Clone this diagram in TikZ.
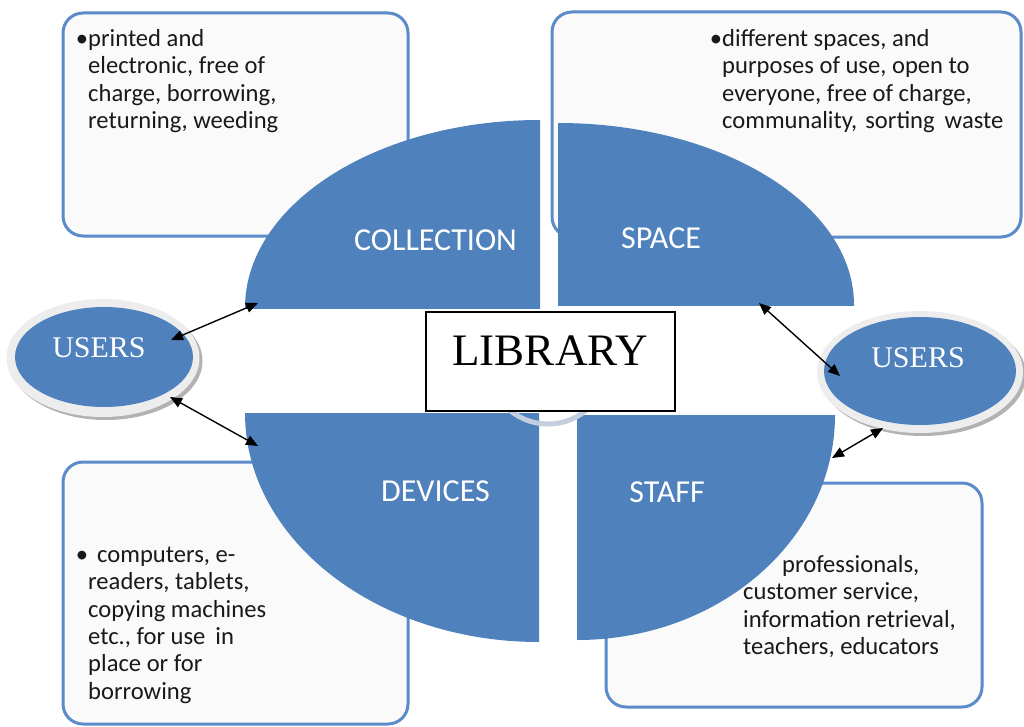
\documentclass[tikz,border=0pt]{standalone}
\usepackage{fontspec}
\setmainfont{Liberation Serif}
\newfontfamily\calfont{Carlito}
\usetikzlibrary{shapes.geometric,arrows.meta}
\definecolor{pieblue}{HTML}{4F81BD}
\definecolor{boxline}{HTML}{5B8BC9}
\definecolor{boxfill}{HTML}{FAFAFA}
\definecolor{ringgrey}{HTML}{EDEDED}
\definecolor{ringblue}{HTML}{C3CEDF}
\begin{document}
\begin{tikzpicture}[x=1pt,y=-1pt,
  infobox/.style={draw=boxline, line width=3pt, fill=boxfill, rounded corners=20pt},
  bodytext/.style={font=\fontsize{24.6}{27.3}\selectfont\calfont, align=left, anchor=north west, inner sep=0pt, text=black!90},
  pielabel/.style={font=\fontsize{32}{32}\selectfont\calfont, text=white, anchor=base, inner sep=0pt},
  userstext/.style={font=\fontsize{30}{30}\selectfont, text=white, anchor=base, inner sep=0pt},
  dbl/.style={{Triangle[length=12pt,width=10pt]}-{Triangle[length=12pt,width=10pt]}, line width=1.4pt, black, shorten <=0pt, shorten >=0pt},
  usersblue/.style={ellipse, fill=pieblue, inner sep=0pt},
  usersring/.style={ellipse, fill=ringgrey, inner sep=0pt},
  usersshadow/.style={ellipse, fill=gray!60, inner sep=0pt}]
\useasboundingbox (0,0) rectangle (1024,727);
\fill[white] (0,0) rectangle (1024,727);

% info boxes
\draw[infobox] (63,13) rectangle (408,236);
\draw[infobox] (552,12) rectangle (1021,237);
\draw[infobox] (63,462) rectangle (408,724);
\draw[infobox] (606,483) rectangle (982,707);

\node[bodytext] (tCol) at (88,27.3) {\strut\llap{•}printed and\\electronic, free of\\charge, borrowing,\\returning, weeding};
\node[bodytext] (tSpa) at (722,27.3) {\strut\llap{•}different spaces, and\\purposes of use, open to\\everyone, free of charge,\\communality,\hspace{8pt}sorting\hspace{10pt}waste};
\node[bodytext] (tDev) at (88,543.3) {\strut\llap{•}\hspace*{9pt}computers, e-\\readers, tablets,\\copying machines\\etc., for use\hspace{10pt}in\\place or for\\borrowing};
\node[bodytext] (tSta) at (743,553.3) {\strut\hspace*{39pt}professionals,\\customer service,\\information retrieval,\\teachers, educators};

% pie quadrants
\begin{scope}
  \clip (245,120) rectangle (540,308);
  \fill[pieblue] (540,308) ellipse[x radius=295pt, y radius=188pt];
\end{scope}
\begin{scope}
  \clip (558,123) rectangle (854,305);
  \fill[pieblue] (558,305) ellipse[x radius=296pt, y radius=182pt];
\end{scope}
\begin{scope}
  \clip (245,413) rectangle (539,642);
  \fill[pieblue] (539,413) ellipse[x radius=294pt, y radius=229pt];
\end{scope}
\begin{scope}
  \clip (577,415) rectangle (835,640);
  \fill[pieblue] (577,415) ellipse[x radius=258pt, y radius=225pt];
\end{scope}

\node[pielabel] (lCol) at (435.5,250) {COLLECTION};
\node[pielabel] (lSpa) at (661,248) {SPACE};
\node[pielabel] (lDev) at (435.5,501) {DEVICES};
\node[pielabel] (lSta) at (667,502) {STAFF};

% ring under the title box
\begin{scope}
  \clip (480,408) rectangle (620,440);
  \draw[ringblue, line width=5pt] (548,364) circle[radius=60pt];
\end{scope}

% title
\node[draw=black, line width=1.2pt, fill=white, minimum width=249pt, minimum height=99pt, inner sep=0pt] (libbox) at (550.5,361.5) {};
\node[font=\fontsize{45}{45}\selectfont, anchor=base, inner sep=0pt] (libtext) at (550,365) {LIBRARY};

% users left
\node[usersshadow, minimum width=193pt, minimum height=118pt] (uLs) at (106,361) {};
\node[usersring, minimum width=193pt, minimum height=118pt] (uLr) at (103,358) {};
\node[usersblue, minimum width=178pt, minimum height=100pt] (uL) at (104,357) {};
\node[userstext] (uLt) at (99,357) {USERS};

% users right
\node[usersshadow, minimum width=206pt, minimum height=122pt] (uRs) at (923,375) {};
\node[usersring, minimum width=206pt, minimum height=122pt] (uRr) at (920,372) {};
\node[usersblue, minimum width=192pt, minimum height=108pt] (uR) at (920,371) {};
\node[userstext] (uRt) at (918,367) {USERS};

% arrow ends
\coordinate (a1u) at (171,340);
\coordinate (a1c) at (258,303);
\coordinate (a2u) at (170,397);
\coordinate (a2d) at (258,446);
\coordinate (a3s) at (759,303);
\coordinate (a3u) at (840,376);
\coordinate (a4u) at (883,428);
\coordinate (a4s) at (832,458);

\draw[dbl] (a1u) -- (a1c);
\draw[dbl] (a2u) -- (a2d);
\draw[dbl] (a3s) -- (a3u);
\draw[dbl] (a4u) -- (a4s);
\end{tikzpicture}
\end{document}
